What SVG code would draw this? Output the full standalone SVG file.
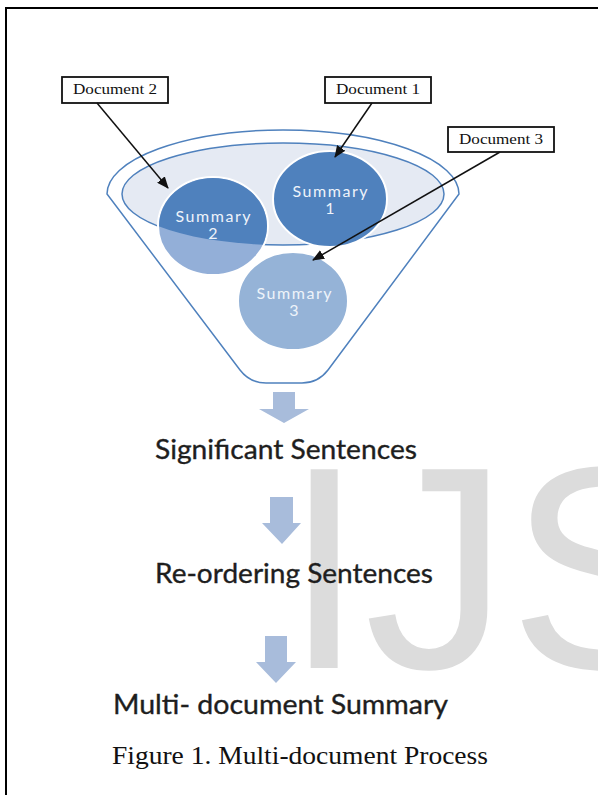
<svg xmlns="http://www.w3.org/2000/svg" width="598" height="795" viewBox="0 0 598 795">
<style>
.frame{stroke:#000;stroke-width:2;fill:none}
.wm{font-family:"Liberation Sans",Arial,sans-serif;font-size:289px;fill:#dcdcdc}
.fun{fill:#fff;stroke:#4f81bd;stroke-width:1.5}
.inner{fill:#e5eaf3;stroke:#4f81bd;stroke-width:1.5}
.dark{fill:#4f81bd;stroke:#fff;stroke-width:2}
.light{fill:#93afd8;stroke:#fff;stroke-width:2}
.sum{font-family:Lato,"Open Sans",sans-serif;font-size:16px;fill:#eef3fa;text-anchor:middle}
.doc rect{fill:#fff;stroke:#111;stroke-width:1.8}
.doc text{font-family:"Liberation Serif","Times New Roman",serif;font-size:15px;fill:#111}
.conn line{stroke:#111;stroke-width:1.5}
.blk{fill:#a8bcdb}
.lbl{font-family:Lato,"Open Sans",sans-serif;font-size:27px;fill:#1e1e1e;stroke:#1e1e1e;stroke-width:0.35}
.cap{font-family:"Liberation Serif","Times New Roman",serif;font-size:25px;fill:#111}
</style>
<defs>
<marker id="ah" markerWidth="12" markerHeight="10" refX="11" refY="5" orient="auto" markerUnits="userSpaceOnUse">
<path d="M0,0 L12,5 L0,10 Z" fill="#111"/>
</marker>
<clipPath id="innerClip"><ellipse cx="283" cy="194" rx="161" ry="51"/></clipPath>
</defs>

<path class="frame" d="M6,795 L6,8 L598,8"/>

<text class="wm" x="284" y="668">IJS</text>

<g id="funnel">
<path class="fun" d="M107,194 A176,64 0 0 1 459,194 L328,370 Q318,383 302,383 L266,383 Q250,383 240,370 Z"/>
<ellipse class="inner" cx="283" cy="194" rx="161" ry="51"/>
</g>

<g id="summary2">
<ellipse class="light" cx="213" cy="226" rx="55" ry="49"/>
<ellipse cx="213" cy="226" rx="54" ry="48" fill="#4f81bd" clip-path="url(#innerClip)"/>
<text class="sum" x="213" y="222" textLength="75">Summary</text>
<text class="sum" x="213" y="239">2</text>
</g>

<g id="summary1">
<ellipse class="dark" cx="330" cy="199" rx="57" ry="48"/>
<text class="sum" x="330" y="197" textLength="75">Summary</text>
<text class="sum" x="330" y="214">1</text>
</g>

<g id="summary3">
<ellipse class="light" cx="293" cy="301" rx="55" ry="49" style="fill:#95b3d7"/>
<text class="sum" x="294" y="299" textLength="75">Summary</text>
<text class="sum" x="294" y="316">3</text>
</g>

<g id="doc2" class="doc">
<rect x="62" y="77" width="106" height="26"/>
<text x="73" y="94" textLength="84" lengthAdjust="spacingAndGlyphs">Document 2</text>
</g>
<g id="doc1" class="doc">
<rect x="325" y="77" width="106" height="26"/>
<text x="336" y="94" textLength="84" lengthAdjust="spacingAndGlyphs">Document 1</text>
</g>
<g id="doc3" class="doc">
<rect x="448" y="127" width="106" height="25"/>
<text x="459" y="144" textLength="84" lengthAdjust="spacingAndGlyphs">Document 3</text>
</g>

<g id="connectors" class="conn">
<line x1="97" y1="103" x2="168" y2="188" marker-end="url(#ah)"/>
<line x1="372" y1="103" x2="335" y2="157" marker-end="url(#ah)"/>
<line x1="500" y1="152" x2="313" y2="260" marker-end="url(#ah)"/>
</g>

<g id="flow-arrows">
<path class="blk" d="M273,392 H295 V409 H309 L284,423 L259,409 H273 Z"/>
<path class="blk" d="M270,497 H293 V523 H301 L282,544 L262,523 H270 Z"/>
<path class="blk" d="M265,636 H287 V662 H296 L276,683 L256,662 H265 Z"/>
</g>

<g id="step1"><text class="lbl" x="155" y="459" textLength="262" lengthAdjust="spacingAndGlyphs">Significant Sentences</text></g>
<g id="step2"><text class="lbl" x="155" y="583" textLength="278" lengthAdjust="spacingAndGlyphs">Re-ordering Sentences</text></g>
<g id="step3"><text class="lbl" x="113" y="714" textLength="335" lengthAdjust="spacingAndGlyphs">Multi- document Summary</text></g>

<text class="cap" x="112" y="764" textLength="376" lengthAdjust="spacingAndGlyphs">Figure 1. Multi-document Process</text>
</svg>
